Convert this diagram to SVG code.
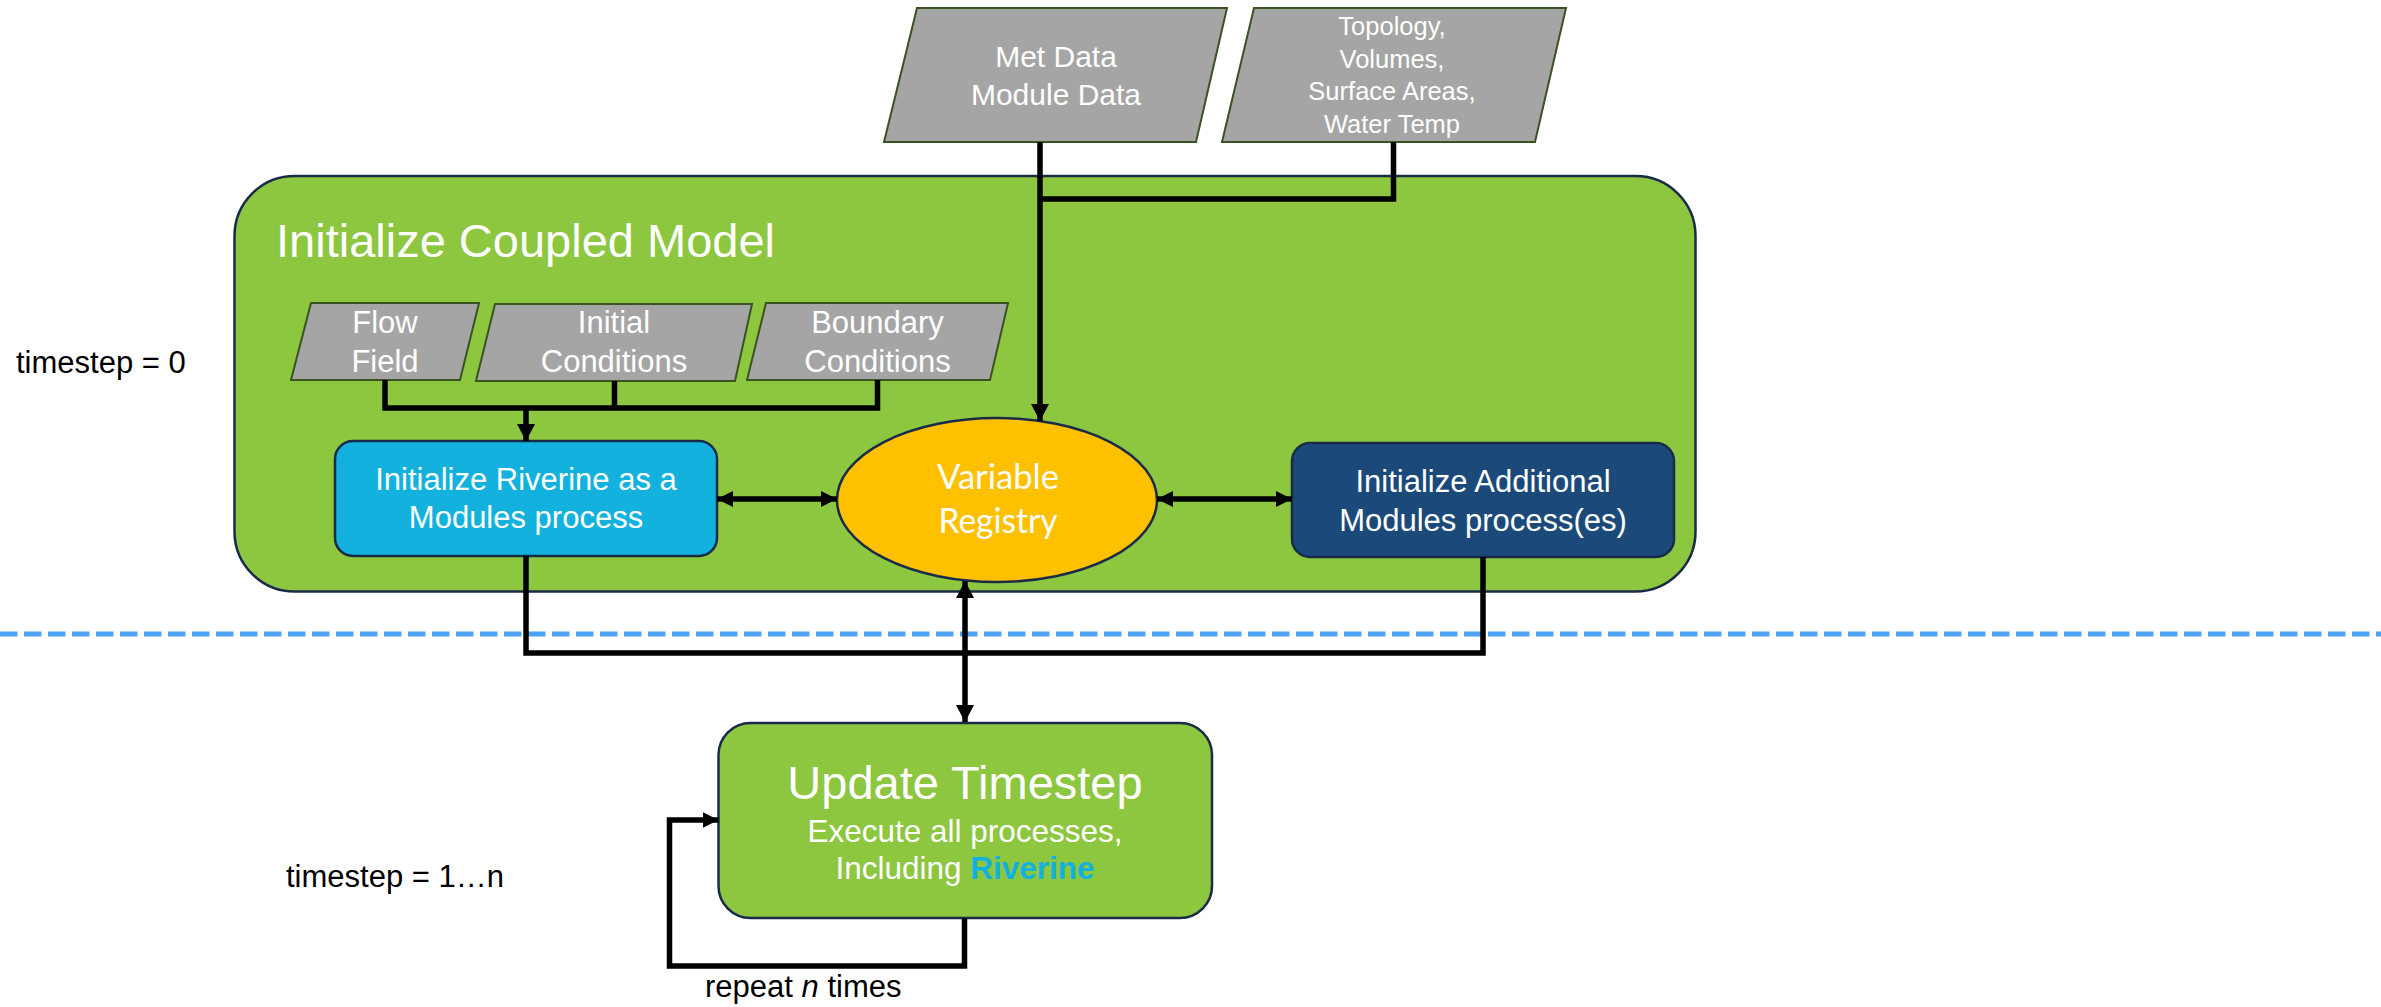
<svg xmlns="http://www.w3.org/2000/svg" width="2381" height="1007" viewBox="0 0 2381 1007">
  <style>
    .t { font-family: "Liberation Sans", Arial, sans-serif; fill: #ffffff; text-anchor: middle; }
    .lbl { font-family: "Liberation Sans", Arial, sans-serif; fill: #000000; font-size: 31px; }
    .para { fill: #A5A5A5; stroke: #3B5323; stroke-width: 2; }
    .conn { fill: none; stroke: #000000; stroke-width: 5.5; }
    .box { stroke: #1A2B4A; stroke-width: 2.5; }
  </style>
  <defs>
    <marker id="ah" markerUnits="userSpaceOnUse" markerWidth="20" markerHeight="20" refX="17" refY="9" orient="auto-start-reverse">
      <path d="M0,0 L17,9 L0,18 z" fill="#000000"/>
    </marker>
    <marker id="ahs" markerUnits="userSpaceOnUse" markerWidth="18" markerHeight="18" refX="16" refY="8" orient="auto-start-reverse">
      <path d="M0,0 L16,8 L0,16 z" fill="#000000"/>
    </marker>
  </defs>
  <rect width="2381" height="1007" fill="#ffffff"/>

  <!-- separator -->
  <line x1="0" y1="634" x2="2381" y2="634" stroke="#4DA3F7" stroke-width="5" stroke-dasharray="17.5 6.5"/>

  <g id="container">
    <rect x="234.5" y="176" width="1461" height="415.5" rx="60" ry="60" fill="#8DC63F" stroke="#1A2B4A" stroke-width="2.5"/>
    <text class="t" x="276" y="257" font-size="47" style="text-anchor:start">Initialize Coupled Model</text>
  </g>

  <g id="met-data">
    <polygon class="para" points="917,8 1227,8 1196,142 884,142"/>
    <text class="t" x="1056" y="67" font-size="30">Met Data</text>
    <text class="t" x="1056" y="105" font-size="30">Module Data</text>
  </g>

  <g id="topology">
    <polygon class="para" points="1254,8 1566,8 1535,142 1222,142"/>
    <text class="t" x="1392" y="35" font-size="25.5">Topology,</text>
    <text class="t" x="1392" y="67.5" font-size="25.5">Volumes,</text>
    <text class="t" x="1392" y="100" font-size="25.5">Surface Areas,</text>
    <text class="t" x="1392" y="132.5" font-size="25.5">Water Temp</text>
  </g>

  <g id="flow-field">
    <polygon class="para" points="311,303 479,303 460,380 291,380"/>
    <text class="t" x="385" y="333" font-size="31">Flow</text>
    <text class="t" x="385" y="372" font-size="31">Field</text>
  </g>

  <g id="initial-conditions">
    <polygon class="para" points="495,304 752,304 735,381 476,381"/>
    <text class="t" x="614" y="333" font-size="31">Initial</text>
    <text class="t" x="614" y="372" font-size="31">Conditions</text>
  </g>

  <g id="boundary-conditions">
    <polygon class="para" points="766,303 1008,303 990,380 747,380"/>
    <text class="t" x="877.5" y="333" font-size="31">Boundary</text>
    <text class="t" x="877.5" y="372" font-size="31">Conditions</text>
  </g>

  <g id="riverine">
    <rect class="box" x="335" y="441" width="382" height="115" rx="18" ry="18" fill="#12B1DE"/>
    <text class="t" x="526" y="490" font-size="31">Initialize Riverine as a</text>
    <text class="t" x="526" y="528" font-size="31">Modules process</text>
  </g>

  <g id="variable-registry">
    <ellipse cx="997" cy="500" rx="160" ry="82" fill="#FFC000" stroke="#1A2B4A" stroke-width="2.5"/>
    <text class="t" x="998" y="489" font-size="34" style="font-family:Lato, 'Liberation Sans', sans-serif" textLength="122" lengthAdjust="spacingAndGlyphs">Variable</text>
    <text class="t" x="998" y="533" font-size="34" style="font-family:Lato, 'Liberation Sans', sans-serif" textLength="119" lengthAdjust="spacingAndGlyphs">Registry</text>
  </g>

  <g id="additional-modules">
    <rect class="box" x="1292" y="443" width="382" height="114" rx="18" ry="18" fill="#1B4A7A"/>
    <text class="t" x="1483" y="492" font-size="31">Initialize Additional</text>
    <text class="t" x="1483" y="531" font-size="31">Modules process(es)</text>
  </g>

  <g id="update-timestep">
    <rect x="718.5" y="723" width="493.5" height="195" rx="32" ry="32" fill="#8DC63F" stroke="#1A2B4A" stroke-width="2.5"/>
    <text class="t" x="965" y="799" font-size="47">Update Timestep</text>
    <text class="t" x="965" y="842" font-size="31.5">Execute all processes,</text>
    <text class="t" x="965" y="879" font-size="31.5">Including <tspan font-weight="bold" fill="#12B1DE">Riverine</tspan></text>
  </g>

  <g id="labels">
    <text class="lbl" x="16" y="373">timestep = 0</text>
    <text class="lbl" x="286" y="887" font-size="31.5">timestep = 1…n</text>
    <text class="lbl" x="705" y="997">repeat <tspan font-style="italic">n</tspan> times</text>
  </g>

  <g id="connectors">
    <path class="conn" d="M1393.5,142 V199 H1040"/>
    <path class="conn" d="M1040,142 V421" marker-end="url(#ah)"/>
    <path class="conn" d="M385,380 V408 H877.5 V380"/>
    <path class="conn" d="M614.5,381 V408"/>
    <path class="conn" d="M526,408 V441" marker-end="url(#ah)"/>
    <path class="conn" d="M717,499 H837" stroke-width="4" marker-start="url(#ahs)" marker-end="url(#ahs)"/>
    <path class="conn" d="M1157,499 H1292" stroke-width="4" marker-start="url(#ahs)" marker-end="url(#ahs)"/>
    <path class="conn" d="M526,556 V653 H1483 V557"/>
    <path class="conn" d="M965,581 V722" marker-start="url(#ah)" marker-end="url(#ah)"/>
    <path class="conn" d="M964.5,918 V966 H669.5 V820 H718.5" stroke-width="4.5" marker-end="url(#ahs)"/>
  </g>
</svg>
